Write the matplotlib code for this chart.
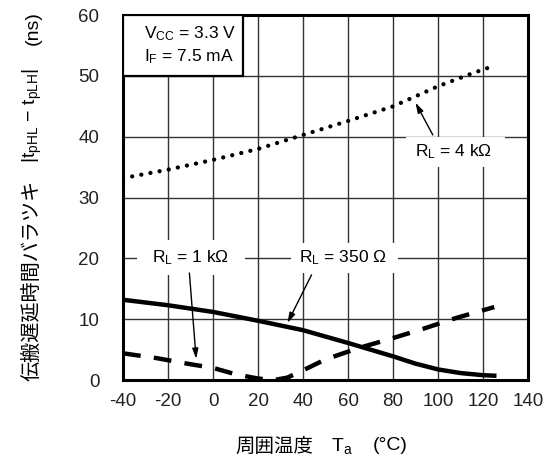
import matplotlib
matplotlib.use('Agg')
import matplotlib.pyplot as plt
from matplotlib.patches import Rectangle

plt.rcParams['font.family'] = ['Liberation Sans', 'Noto Sans CJK JP']
plt.rcParams['mathtext.fontset'] = 'custom'
plt.rcParams['mathtext.rm'] = 'Liberation Sans'
plt.rcParams['mathtext.it'] = 'Liberation Sans:italic'
plt.rcParams['mathtext.bf'] = 'Liberation Sans:bold'
plt.rcParams['axes.unicode_minus'] = False

# RL = 4 kohm (dotted)
t_4k = [-40, -20, 0, 20, 40, 60, 80, 100, 115, 122]
d_4k = [33.2, 34.6, 36.2, 38.0, 40.3, 42.6, 45.0, 48.3, 50.4, 51.3]
# RL = 350 ohm (solid)
t_350 = [-40, -20, 0, 20, 40, 60, 70, 80, 90, 100, 110, 120, 126]
d_350 = [13.2, 12.3, 11.2, 9.75, 8.2, 6.1, 5.0, 3.9, 2.7, 1.75, 1.15, 0.8, 0.7]
# RL = 1 kohm (dashed)
t_1k = [-40, -25, -10, 0, 10, 20, 27, 33, 40, 50, 65, 80, 94, 108, 125]
d_1k = [4.4, 3.6, 2.6, 2.0, 0.95, 0.25, 0.0, 0.4, 1.6, 3.4, 5.3, 6.9, 8.5, 10.2, 12.0]

xticks = [-40, -20, 0, 20, 40, 60, 80, 100, 120, 140]
yticks = [0, 10, 20, 30, 40, 50, 60]

fig = plt.figure(figsize=(5.48, 4.59), dpi=100)
ax = fig.add_axes([0.2245, 0.172, 0.739, 0.795])
ax.set_xlim(-40, 140)
ax.set_ylim(0, 60)
ax.set_xticks(xticks)
ax.set_yticks(yticks)
ax.tick_params(length=0, labelsize=13.5, colors='#222222')
ax.tick_params(axis='y', pad=17)
ax.tick_params(axis='x', pad=9)
ax.set_axisbelow(True)
ax.grid(True, color='#333333', lw=1.0)
for s in ax.spines.values():
    s.set_linewidth(2.2)
    s.set_color('black')

ax.plot(t_4k, d_4k, color='black', lw=3.1, linestyle=(0, (0.01, 2.15)),
        dash_capstyle='round', zorder=3)
ax.plot(t_350, d_350, color='black', lw=3.2, solid_capstyle='butt', zorder=3)
ax.plot(t_1k, d_1k, color='black', lw=3.2, linestyle=(0, (4.0, 3.0)),
        dash_capstyle='butt', zorder=3)

# white patches behind labels (break the grid)
for x0, y0, w, h in [(-33.8, 17.3, 48.2, 5.7), (34.5, 17.6, 47.5, 4.9),
                     (85.7, 35.0, 44.0, 4.9)]:
    ax.add_patch(Rectangle((x0, y0), w, h, facecolor='white',
                           edgecolor='none', zorder=1))

# condition box
ax.add_patch(Rectangle((-40, 50), 53.5, 10, facecolor='white',
                       edgecolor='black', lw=1.6, zorder=5))
ax.text(-30.5, 57.0, r'V$_{\mathrm{CC}}$ = 3.3 V', fontsize=12.5,
        ha='left', va='center', zorder=6)
ax.text(-30.5, 53.1, r'I$_{\mathrm{F}}$ = 7.5 mA', fontsize=12.5,
        ha='left', va='center', zorder=6)

arrow = dict(arrowstyle='-|>,head_length=0.6,head_width=0.18',
             color='black', lw=1.0, shrinkA=0, shrinkB=0)
ax.text(107, 37.6, r'R$_{\mathrm{L}}$ = 4 k' + '\u03a9', fontsize=12.5,
        ha='center', va='center', zorder=6)
ax.annotate('', xy=(90, 45.6), xytext=(97.7, 40.3), arrowprops=arrow, zorder=6)
ax.text(57.6, 20.2, r'R$_{\mathrm{L}}$ = 350 ' + '\u03a9', fontsize=12.5,
        ha='center', va='center', zorder=6)
ax.annotate('', xy=(33.1, 9.4), xytext=(43.8, 17.3), arrowprops=arrow, zorder=6)
ax.text(-10, 20.2, r'R$_{\mathrm{L}}$ = 1 k' + '\u03a9', fontsize=12.5,
        ha='center', va='center', zorder=6)
ax.annotate('', xy=(-7.5, 3.5), xytext=(-10.5, 17.6), arrowprops=arrow, zorder=6)

# y label pieces
fig.text(0.060, 0.390, '伝搬遅延時間バラツキ', rotation=90, fontsize=14.5,
         family='Noto Sans CJK JP', ha='center', va='center')
fig.text(0.060, 0.749, r'|t$_{\mathrm{pHL}}$ − t$_{\mathrm{pLH}}$|', rotation=90,
         fontsize=14, ha='center', va='center')
fig.text(0.060, 0.939, '(ns)', rotation=90, fontsize=14, ha='center', va='center')

# x label pieces
fig.text(274 / 548, 1 - 446 / 459, '周囲温度', fontsize=14,
         family='Noto Sans CJK JP', ha='center', va='center')
fig.text(342 / 548, 1 - 446 / 459, r'T$_{\mathrm{a}}$', fontsize=14,
         ha='center', va='center')
fig.text(390 / 548, 1 - 446 / 459, '(°C)', fontsize=14, ha='center', va='center')

fig.savefig('out.png', dpi=100)
